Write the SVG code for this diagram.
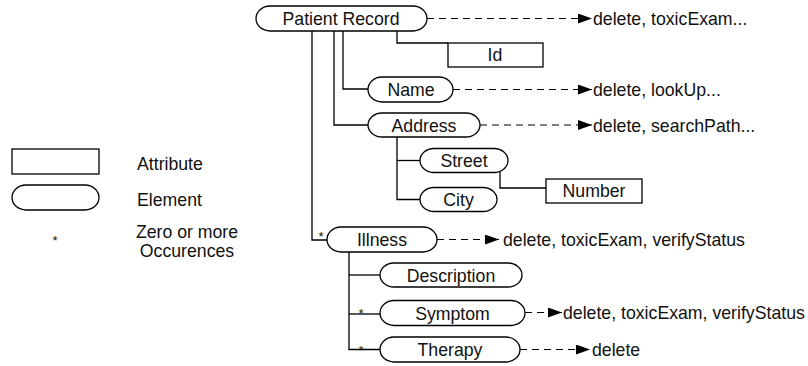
<svg xmlns="http://www.w3.org/2000/svg" width="808" height="366" viewBox="0 0 808 366">
<defs>
<marker id="ah" markerWidth="14" markerHeight="10" refX="14" refY="5" orient="auto" markerUnits="userSpaceOnUse">
<path d="M0,0 L14,5 L0,10 Z" fill="#000"/>
</marker>
<style>
text{font-family:"Liberation Sans",Arial,Helvetica,sans-serif;font-size:17.7px;fill:#111}
.c{text-anchor:middle}
.star{font-size:13px}
.el,.at{fill:#fff;stroke:#000;stroke-width:1.3}
.ln{fill:none;stroke:#000;stroke-width:1.3}
.da{fill:none;stroke:#000;stroke-width:1.2;stroke-dasharray:7 5}
</style>
</defs>
<rect width="808" height="366" fill="#fff"/>

<g id="connectors">
<polyline class="ln" points="397,31 397,43 448,43"/>
<polyline class="ln" points="343,31 343,89 368,89"/>
<polyline class="ln" points="334,31 334,125 368,125"/>
<polyline class="ln" points="312,31 312,240 327,240"/>
<polyline class="ln" points="397,137 397,199.5 420,199.5"/>
<polyline class="ln" points="397,160.5 420,160.5"/>
<polyline class="ln" points="500,172 500,188 546,188"/>
<polyline class="ln" points="349,252 349,349.5 380,349.5"/>
<polyline class="ln" points="349,275 380,275"/>
<polyline class="ln" points="349,314 380,314"/>
<line class="da" x1="427" y1="18.5" x2="592" y2="18.5" marker-end="url(#ah)"/>
<line class="da" x1="453" y1="89.5" x2="592" y2="89.5" marker-end="url(#ah)"/>
<line class="da" x1="480" y1="125" x2="592" y2="125" marker-end="url(#ah)"/>
<line class="da" x1="437" y1="239.5" x2="499" y2="239.5" marker-end="url(#ah)"/>
<line class="da" x1="525" y1="312.5" x2="562" y2="312.5" marker-end="url(#ah)"/>
<line class="da" x1="520" y1="349.5" x2="590" y2="349.5" marker-end="url(#ah)"/>
<text class="star" x="321" y="240.5" text-anchor="middle">*</text>
<text class="star" x="361" y="318" text-anchor="middle">*</text>
<text class="star" x="361" y="354.5" text-anchor="middle">*</text>
</g>

<g id="patient-record"><rect class="el" x="256" y="6" width="171" height="25" rx="14" ry="12.5"/><text class="c" x="341" y="25">Patient Record</text></g>
<g id="id"><rect class="at" x="448" y="43" width="95" height="24"/><text class="c" x="495" y="61">Id</text></g>
<g id="name"><rect class="el" x="368" y="77" width="85" height="25" rx="14" ry="12.5"/><text class="c" x="411" y="96">Name</text></g>
<g id="address"><rect class="el" x="368" y="113" width="112" height="24" rx="14" ry="12"/><text class="c" x="424" y="131.5">Address</text></g>
<g id="street"><rect class="el" x="420" y="148.5" width="88" height="24" rx="14" ry="12"/><text class="c" x="464" y="167">Street</text></g>
<g id="city"><rect class="el" x="420" y="187.5" width="77" height="24" rx="14" ry="12"/><text class="c" x="458.5" y="206">City</text></g>
<g id="number"><rect class="at" x="546" y="179" width="96" height="24"/><text class="c" x="594" y="197">Number</text></g>
<g id="illness"><rect class="el" x="327" y="227" width="110" height="25" rx="14" ry="12.5"/><text class="c" x="382" y="246">Illness</text></g>
<g id="description"><rect class="el" x="380" y="263" width="142" height="24" rx="14" ry="12"/><text class="c" x="451" y="281.5">Description</text></g>
<g id="symptom"><rect class="el" x="380" y="300.5" width="145" height="25" rx="14" ry="12.5"/><text class="c" x="452.5" y="319.5">Symptom</text></g>
<g id="therapy"><rect class="el" x="380" y="337" width="140" height="25" rx="14" ry="12.5"/><text class="c" x="450" y="356">Therapy</text></g>

<g id="labels">
<text x="593" y="25">delete, toxicExam...</text>
<text x="593" y="96">delete, lookUp...</text>
<text x="593" y="131.5">delete, searchPath...</text>
<text x="503" y="246">delete, toxicExam, verifyStatus</text>
<text x="563" y="319">delete, toxicExam, verifyStatus</text>
<text x="592" y="356">delete</text>
</g>

<g id="legend">
<rect class="at" x="12" y="149" width="87" height="25"/>
<text x="137" y="169.5">Attribute</text>
<rect class="el" x="12" y="185" width="87" height="25" rx="14" ry="12.5"/>
<text x="137" y="206">Element</text>
<text class="star" x="55" y="244.5" text-anchor="middle">*</text>
<text class="c" x="187" y="237.5">Zero or more</text>
<text class="c" x="187" y="257">Occurences</text>
</g>
</svg>
